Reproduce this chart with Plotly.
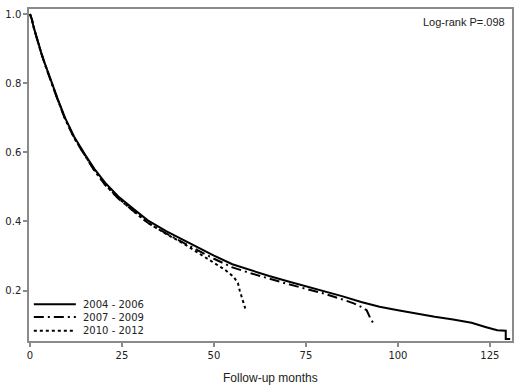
import plotly.graph_objects as go

# 2004 - 2006
m_0406 = [0, 0.5, 1, 1.6, 2.3, 3, 4, 5, 5.9, 7.5, 9.5, 12, 15, 17.5, 20.4, 24, 28, 32, 37, 42, 46, 50, 55, 60,
          65, 70, 75, 80, 85, 90, 95, 100, 105, 110, 115, 120, 124, 127, 129.3, 129.3, 130.5]
s_0406 = [1.0, 0.985, 0.962, 0.938, 0.913, 0.89, 0.858, 0.828, 0.80, 0.755, 0.70, 0.645, 0.593, 0.552,
          0.512, 0.472, 0.437, 0.403, 0.372, 0.345, 0.322, 0.301, 0.276, 0.258, 0.242, 0.227, 0.213, 0.199,
          0.183, 0.167, 0.153, 0.143, 0.133, 0.124, 0.116, 0.107, 0.094, 0.085, 0.084, 0.06, 0.06]

# 2007 - 2009
m_0709 = [0, 0.5, 1, 1.6, 2.3, 3, 4, 5, 5.9, 7.5, 9.5, 12, 15, 17.5, 20.4, 24, 28, 32, 37, 42, 46, 50, 55, 60,
          65, 70, 75, 80, 85, 88, 90, 91.5, 92.5, 93.7]
s_0709 = [1.0, 0.985, 0.961, 0.937, 0.912, 0.888, 0.856, 0.826, 0.798, 0.752, 0.697, 0.641, 0.589, 0.547,
          0.506, 0.466, 0.431, 0.396, 0.365, 0.338, 0.314, 0.292, 0.267, 0.25, 0.234, 0.219, 0.205, 0.191,
          0.174, 0.163, 0.153, 0.143, 0.12, 0.098]

# 2010 - 2012
m_1012 = [0, 0.5, 1, 1.6, 2.3, 3, 4, 5, 5.9, 7.5, 9.5, 12, 15, 17.5, 20.4, 24, 28, 32, 37, 42, 46, 50, 53,
          55.3, 56.5, 57, 57.5, 58, 58.5]
s_1012 = [1.0, 0.985, 0.962, 0.938, 0.913, 0.889, 0.857, 0.827, 0.799, 0.753, 0.698, 0.642, 0.59, 0.548,
          0.507, 0.467, 0.431, 0.396, 0.364, 0.334, 0.307, 0.28, 0.26, 0.24, 0.222, 0.2, 0.18, 0.16, 0.148]

series_names = ["2004 - 2006", "2007 - 2009", "2010 - 2012"]
x_ticks = [0, 25, 50, 75, 100, 125]
y_ticks = [0.2, 0.4, 0.6, 0.8, 1.0]

dashes = ["solid", "10px,4px,2px,4px", "dot"]
series = [(m_0406, s_0406), (m_0709, s_0709), (m_1012, s_1012)]

fig = go.Figure()
for (mx, sy), name, dash in zip(series, series_names, dashes):
    fig.add_trace(go.Scatter(x=mx, y=sy, mode="lines", name=name, showlegend=False,
                             line=dict(color="black", width=2, dash=dash)))

# compact custom legend (bottom-left, inside the plot)
leg_rows_y = [0.111, 0.072, 0.031]
for yy, name, dash in zip(leg_rows_y, series_names, dashes):
    fig.add_shape(type="line", xref="paper", yref="paper", x0=0.010, x1=0.097, y0=yy, y1=yy,
                  line=dict(color="black", width=2, dash=dash))
    fig.add_annotation(text=name, xref="paper", yref="paper", x=0.108, y=yy,
                       xanchor="left", yanchor="middle", showarrow=False,
                       font=dict(family="DejaVu Sans", size=10, color="#222"))

axis_common = dict(showline=True, linecolor="#8a8a8a", linewidth=1.5, mirror=True,
                   ticks="outside", ticklen=4, tickcolor="#8a8a8a", tickwidth=1.5,
                   showgrid=False, zeroline=False, automargin=False,
                   tickfont=dict(family="DejaVu Sans", size=10, color="#222"))

fig.update_xaxes(range=[-0.27, 131], tickvals=x_ticks, **axis_common)
fig.update_yaxes(range=[0.054, 1.0145], tickvals=y_ticks, tickformat=".1f", **axis_common)

fig.add_annotation(text="Follow-up months", xref="paper", yref="paper", x=0.5, y=-0.112,
                   xanchor="center", yanchor="middle", showarrow=False,
                   font=dict(family="Liberation Sans", size=12, color="#222"))
fig.add_annotation(text="Log-rank P=.098", xref="paper", yref="paper", x=0.99, y=0.985,
                   xanchor="right", yanchor="top", showarrow=False,
                   font=dict(family="Liberation Sans", size=11, color="#222"))

fig.update_layout(
    width=520, height=389,
    margin=dict(l=29, r=8, t=9, b=48, autoexpand=False),
    plot_bgcolor="white", paper_bgcolor="white",
    showlegend=False,
)

fig.write_html("out.html", config={"displayModeBar": False},
               post_script="document.body.style.margin='0';document.body.style.overflow='hidden';")
